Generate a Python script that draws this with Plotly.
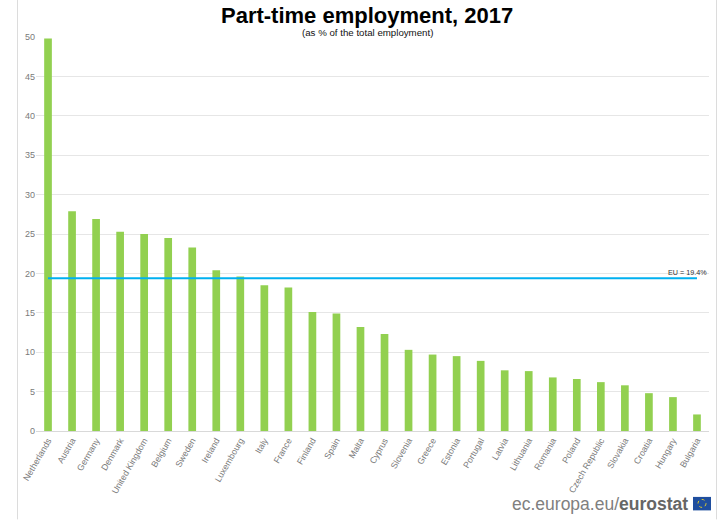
import plotly.graph_objects as go

countries = ["Netherlands","Austria","Germany","Denmark","United Kingdom","Belgium","Sweden","Ireland","Luxembourg","Italy","France","Finland","Spain","Malta","Cyprus","Slovenia","Greece","Estonia","Portugal","Latvia","Lithuania","Romania","Poland","Czech Republic","Slovakia","Croatia","Hungary","Bulgaria"]
values = [49.8,27.9,26.9,25.3,25.0,24.5,23.3,20.4,19.6,18.5,18.2,15.1,14.9,13.2,12.3,10.3,9.7,9.5,8.9,7.7,7.6,6.8,6.6,6.2,5.8,4.8,4.3,2.1]
eu_value = [19.4] * len(countries)
y_ticks = [0,5,10,15,20,25,30,35,40,45,50]

W, H = 720, 520
PL, PT, PW, PH = 36, 37, 673, 394.5  # plot box in page pixels
FONT = "Liberation Sans"
def px(x): return (x - PL) / PW
def py(y): return 1 - (y - PT) / PH

fig = go.Figure()
fig.add_bar(x=countries, y=values, width=0.32, marker=dict(color="#92D050", line=dict(width=0)), showlegend=False)
fig.add_scatter(x=countries, y=eu_value, mode="lines", line=dict(color="#00B0F0", width=2), showlegend=False)

anns = [
    dict(text="<b>Part-time employment, 2017</b>", x=px(367), y=py(15.5), font=dict(size=22, color="#000000")),
    dict(text="(as % of the total employment)", x=px(367), y=py(32.5), font=dict(size=9.7, color="#111111")),
    dict(text="EU = 19.4%", x=px(687), y=py(272.5), font=dict(size=7.2, color="#333333")),
    dict(text="<span style='color:#808080'>ec.europa.eu/</span><b>eurostat</b>", x=px(690), y=py(505), xanchor="right", font=dict(size=17.5, color="#666666")),
]
for a in anns:
    a.update(xref="paper", yref="paper", showarrow=False, yanchor="middle", xanchor=a.get("xanchor", "center"))

def paper_shape(kind, x0, y0, x1, y1, **kw):
    return dict(type=kind, xref="paper", yref="paper", x0=px(x0), x1=px(x1), y0=py(y0), y1=py(y1), **kw)

shapes = [
    paper_shape("line", 17.5, 0, 17.5, 520, line=dict(color="#DCDCDC", width=1)),
    paper_shape("line", 716.5, 0, 716.5, 520, line=dict(color="#DCDCDC", width=1)),
    paper_shape("rect", 693, 497.5, 711, 511, fillcolor="#1F4E9E", line=dict(width=0)),
    paper_shape("circle", 698, 500, 706, 508, fillcolor="rgba(0,0,0,0)", line=dict(color="#D8C832", width=1, dash="dot")),
]

fig.update_layout(
    width=W, height=H, autosize=False,
    margin=dict(l=PL, r=W-PL-PW, t=PT, b=H-PT-PH, pad=0),
    paper_bgcolor="white", plot_bgcolor="white",
    font=dict(family=FONT),
    annotations=anns, shapes=shapes,
    xaxis=dict(type="category", range=[-0.5, len(countries)-0.5], tickangle=-60, ticks="",
               tickfont=dict(size=8.8, color="#7A7A7A"), showgrid=False, showline=True,
               linecolor="#D9D9D9", linewidth=1, automargin=False),
    yaxis=dict(range=[0, 50], tickvals=y_ticks, tickfont=dict(size=9, color="#7A7A7A"),
               gridcolor="#E6E6E6", gridwidth=1, zeroline=False, showline=False, ticks="",
               automargin=False),
)
fig.write_html("out.html", config=dict(displayModeBar=False),
               post_script="document.body.style.margin='0';document.body.style.overflow='hidden';")
